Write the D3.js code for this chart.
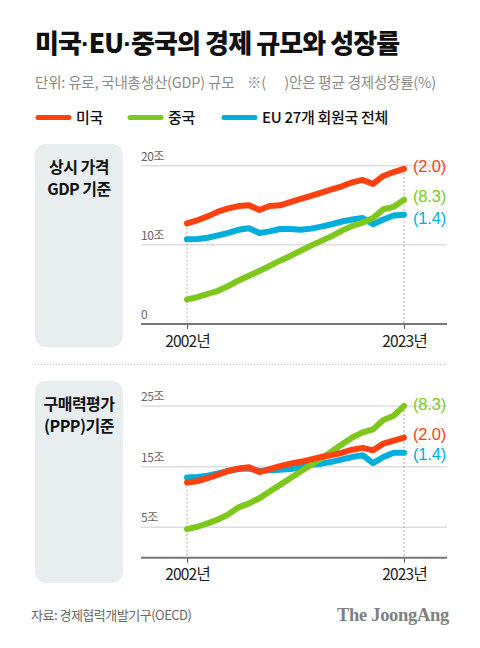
<!DOCTYPE html>
<html><head><meta charset="utf-8">
<script src="https://cdn.jsdelivr.net/npm/d3@7"></script>
<style>
html,body{margin:0;padding:0;background:#fff;}
svg{display:block;font-family:"Noto Sans CJK KR","Noto Sans",sans-serif;}
</style></head>
<body>
<svg id="chart" width="480" height="648"></svg>
<script>
// ---- data ----
const years = [2002,2003,2004,2005,2006,2007,2008,2009,2010,2011,2012,2013,2014,2015,2016,2017,2018,2019,2020,2021,2022,2023];
// 상시 가격 GDP (조 유로)
const usNominal    = [12.7,13.1,13.6,14.2,14.6,14.9,15.0,14.4,14.9,15.0,15.4,15.8,16.2,16.6,17.0,17.4,17.9,18.2,17.7,18.7,19.2,19.6];
const chinaNominal = [3.1,3.4,3.8,4.2,4.8,5.5,6.1,6.7,7.35,8.0,8.6,9.25,9.9,10.5,11.1,11.8,12.4,12.8,13.4,14.5,14.8,15.7];
const euNominal    = [10.7,10.75,10.9,11.2,11.5,11.9,12.1,11.5,11.7,12.0,12.0,11.9,12.05,12.3,12.6,12.95,13.2,13.4,12.6,13.2,13.7,13.8];
// 구매력평가(PPP) 기준 (조 유로)
const usPPP    = [12.4,12.6,13.1,13.7,14.3,14.7,14.9,14.1,14.6,15.1,15.5,15.8,16.2,16.6,16.9,17.3,17.8,18.1,17.7,18.8,19.3,19.8];
const chinaPPP = [4.7,5.1,5.65,6.3,7.15,8.3,8.95,9.8,10.9,12.0,13.1,14.2,15.3,16.4,17.5,18.7,19.8,20.65,21.15,22.7,23.4,25.0];
const euPPP    = [13.2,13.3,13.5,13.9,14.3,14.6,14.7,14.3,14.4,14.5,14.6,14.9,15.3,15.5,15.8,16.2,16.6,16.9,15.6,16.6,17.3,17.3];

const seriesNames = ["미국","중국","EU 27개 회원국 전체"];
const growthLabels = ["(2.0)","(8.3)","(1.4)"];
const topTicks = [0,10,20];
const topTickLabels = ["0","10조","20조"];
const botTicks = [5,15,25];
const botTickLabels = ["5조","15조","25조"];
const yearTicks = [2002,2023];
const yearTickLabels = ["2002년","2023년"];

const colors = ["#ff4112","#7ec81c","#00aedb"];

// ---- drawing ----
const svg = d3.select("#chart");

const title = svg.append("text").attr("x",35).attr("y",53)
  .attr("font-size",26).attr("font-weight",900).attr("letter-spacing",-0.9).attr("fill","#111");
["미국","·","EU","·","중국의 경제 규모와 성장률"].forEach(p=>{
  const t = title.append("tspan").text(p);
  if(p==="·") t.attr("font-family","\"Liberation Sans\",Arial,sans-serif").attr("font-weight",700);
});

svg.append("text").attr("x",35).attr("y",88)
  .attr("font-size",14.5).attr("fill","#8a8a8a").attr("letter-spacing",-0.2)
  .text("단위: 유로, 국내총생산(GDP) 규모");
svg.append("text").attr("x",247).attr("y",88)
  .attr("font-size",14.5).attr("fill","#8a8a8a").attr("letter-spacing",-0.2)
  .style("white-space","pre")
  .text("※(      )안은 평균 경제성장률(%)");

// legend
const legendX = [36,128,222];
seriesNames.forEach((n,i)=>{
  svg.append("line").attr("x1",legendX[i]+2).attr("x2",legendX[i]+33)
    .attr("y1",117.5).attr("y2",117.5).attr("stroke",colors[i])
    .attr("stroke-width",5).attr("stroke-linecap","round");
  svg.append("text").attr("x",legendX[i]+40).attr("y",123)
    .attr("font-size",15).attr("font-weight",500).attr("fill","#111")
    .attr("letter-spacing",-0.3).text(n);
});

const x = d3.scaleLinear().domain([2002,2023]).range([187,404]);

function panel(cfg){
  const g = svg.append("g");
  // side box
  g.append("rect").attr("x",35).attr("y",cfg.boxTop).attr("width",88)
    .attr("height",cfg.boxH).attr("rx",11).attr("fill","#e8edf0");
  cfg.boxText.forEach((t,i)=>{
    g.append("text").attr("x",79).attr("y",cfg.boxTop+29+i*22)
      .attr("text-anchor","middle").attr("font-size",16).attr("font-weight",700)
      .attr("fill","#111").attr("letter-spacing",-0.5).text(t);
  });
  const y = cfg.y;
  // gridlines
  cfg.ticks.forEach((t,i)=>{
    if(t!==0){
      g.append("line").attr("x1",141).attr("x2",447).attr("y1",y(t)).attr("y2",y(t))
        .attr("stroke","#dedede").attr("stroke-width",1.5);
    }
    g.append("text").attr("x",141).attr("y",y(t)-5)
      .attr("font-size",12).attr("fill","#666").attr("letter-spacing",-0.4)
      .text(cfg.tickLabels[i]);
  });
  // dashed verticals
  yearTicks.forEach((yr,k)=>{
    const idx = years.indexOf(yr);
    const maxV = d3.max(cfg.data, d=>d[idx]);
    g.append("line").attr("x1",x(yr)).attr("x2",x(yr)).attr("y1",y(maxV)).attr("y2",y(0))
      .attr("stroke","#a0a0a0").attr("stroke-width",0.9).attr("stroke-dasharray","2,2");
  });
  // axis
  const axis = d3.axisBottom(x).tickValues(yearTicks).tickSize(5)
    .tickFormat((d,i)=>yearTickLabels[i]);
  const ag = g.append("g").attr("transform",`translate(0,${y(0)})`).call(axis);
  ag.select(".domain").remove();
  ag.selectAll(".tick line").attr("stroke","#555").attr("stroke-width",1);
  ag.selectAll(".tick text").attr("font-size",15.5).attr("fill","#222")
    .attr("font-family","\"Noto Sans CJK KR\",sans-serif").attr("letter-spacing",-0.8).attr("dy","0.95em");
  g.append("line").attr("x1",141).attr("x2",447).attr("y1",y(0)).attr("y2",y(0))
    .attr("stroke","#777").attr("stroke-width",2);
  // lines
  const line = d3.line().x((d,i)=>x(years[i])).y(d=>y(d));
  [2,1,0].forEach(s=>{
    g.append("path").datum(cfg.data[s]).attr("d",line).attr("fill","none")
      .attr("stroke",colors[s]).attr("stroke-width",6)
      .attr("stroke-linejoin","round").attr("stroke-linecap","round");
  });
  // growth labels
  cfg.data.forEach((d,s)=>{
    g.append("text").attr("x",413).attr("y",y(d[d.length-1])+cfg.labelShift[s])
      .attr("dominant-baseline","central").attr("font-size",16.5)
      .attr("font-family","\"Liberation Sans\",Arial,sans-serif")
      .attr("fill",colors[s]).attr("letter-spacing",-0.2).text(growthLabels[s]);
  });
}

panel({
  boxTop:144, boxH:203, boxText:["상시 가격","GDP 기준"],
  y: d3.scaleLinear().domain([0,20]).range([324,165.7]),
  ticks: topTicks, tickLabels: topTickLabels,
  data: [usNominal, chinaNominal, euNominal],
  labelShift:[-2.5,-3.5,3.5]
});

svg.append("line").attr("x1",35).attr("x2",445).attr("y1",364.5).attr("y2",364.5)
  .attr("stroke","#c8c8c8").attr("stroke-width",1.2).attr("stroke-dasharray","1.2,1.8");

panel({
  boxTop:381, boxH:202, boxText:["구매력평가","(PPP)기준"],
  y: d3.scaleLinear().domain([0,25]).range([557.7,406]),
  ticks: botTicks, tickLabels: botTickLabels,
  data: [usPPP, chinaPPP, euPPP],
  labelShift:[-4,-2.5,1.5]
});

// footer
svg.append("text").attr("x",31).attr("y",620).attr("font-size",13)
  .attr("fill","#666").attr("letter-spacing",-0.5).text("자료: 경제협력개발기구(OECD)");
svg.append("text").attr("x",449).attr("y",621).attr("text-anchor","end")
  .attr("font-family","\"Liberation Serif\",\"DejaVu Serif\",serif").attr("font-weight",700)
  .attr("font-size",18.5).attr("fill","#808080").attr("letter-spacing",-0.3).text("The JoongAng");
</script>
</body></html>
